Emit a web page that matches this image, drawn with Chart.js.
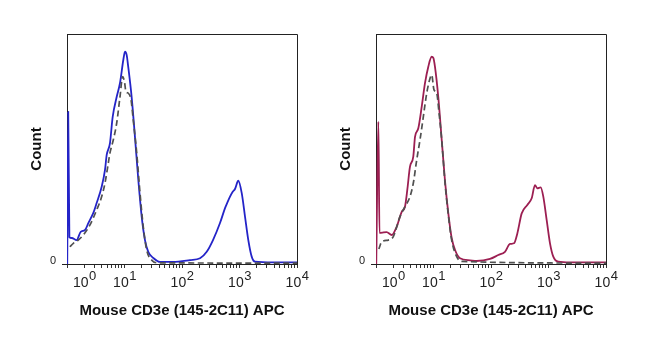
<!DOCTYPE html>
<html lang="en">
<head>
<meta charset="UTF-8" />
<title>Mouse CD3e (145-2C11) APC</title>
<script src="https://cdn.jsdelivr.net/npm/chart.js"></script>
<style>
  body { margin: 0; padding: 0; background: #fff; width: 650px; height: 344px; position: relative; overflow: hidden; }
  .panel { position: absolute; top: 0; width: 325px; height: 344px; }
  #leftPanel { left: 0; }
  #rightPanel { left: 309px; }
</style>
</head>
<body>
<div class="panel" id="leftPanel"><canvas id="leftChart" width="325" height="344"></canvas></div>
<div class="panel" id="rightPanel"><canvas id="rightChart" width="325" height="344"></canvas></div>
<script>
// APC intensity (x) and relative count (y), left panel: stained cells
const leftStainX = [1.01, 1.05, 1.10, 1.21, 1.47, 1.73, 2.06, 2.35, 2.87, 3.28, 4.01, 4.58, 4.90, 5.59, 6.23, 7.32, 8.35, 9.53, 10.2, 10.9, 11.6, 13.3, 15.2, 17.4, 19.9, 22.7, 25.9, 31.7, 41.4, 69.7, 138, 206, 269, 346, 458, 560, 614, 684, 762, 835, 953, 1092, 1247, 1423, 1630, 1862, 3830, 10000];
const leftStainY = [0, 66.1, 11.7, 11.3, 10.4, 14.0, 14.8, 17.8, 22.2, 26.5, 33.6, 40.9, 47.4, 52.6, 64.0, 72.7, 78.7, 88.7, 92.3, 90.9, 85.8, 72.7, 55.3, 36.5, 20.6, 10.4, 5.3, 2.6, 0.9, 0.9, 1.7, 2.5, 5.3, 10.4, 17.8, 24.3, 26.7, 29.3, 31.4, 32.6, 36.2, 30.9, 20.6, 10.4, 3.2, 1.0, 0.7, 0.7];

// left panel: unstained control (dashed)
const leftCtrlX = [1.12, 1.29, 1.57, 1.92, 2.51, 3.28, 4.01, 4.58, 5.23, 5.59, 6.38, 7.32, 8.35, 9.30, 10.0, 10.6, 11.6, 13.0, 14.2, 16.3, 18.6, 21.2, 24.3, 29.7, 38.3, 10000];
const leftCtrlY = [7.5, 9.0, 10.4, 12.6, 17.0, 23.5, 29.3, 35.2, 43.9, 48.3, 53.9, 61.3, 72.7, 81.5, 79.1, 74.9, 74.3, 71.3, 62.6, 48.3, 30.9, 16.2, 6.1, 1.7, 0.5, 0.4];

// right panel: stained cells
const rightStainX = [1.01, 1.10, 1.15, 1.26, 1.53, 1.88, 2.29, 2.80, 3.19, 3.50, 3.90, 4.45, 4.77, 5.44, 6.24, 7.11, 8.12, 9.30, 9.93, 10.6, 12.1, 13.9, 15.8, 18.1, 20.7, 23.7, 28.9, 43.1, 56.4, 96.1, 134, 175, 214, 251, 287, 342, 428, 510, 582, 638, 731, 812, 930, 1062, 1212, 1480, 2366, 10000];
const rightStainY = [0, 61.9, 13.5, 13.6, 13.9, 12.6, 16.2, 22.7, 24.9, 32.2, 42.3, 46.7, 55.3, 59.0, 68.4, 78.6, 85.8, 90.1, 89.6, 85.8, 72.7, 53.9, 36.5, 22.0, 11.3, 6.1, 2.5, 1.6, 1.3, 2.2, 3.9, 5.3, 8.7, 9.0, 13.3, 22.0, 25.7, 28.6, 34.3, 32.9, 33.3, 29.3, 19.1, 9.0, 3.2, 1.0, 0.7, 0.7];

// right panel: unstained control (dashed)
const rightCtrlX = [1.12, 1.26, 1.64, 2.00, 2.61, 3.19, 3.90, 4.45, 5.10, 5.82, 6.65, 7.62, 8.69, 9.30, 10.2, 11.4, 12.5, 13.9, 15.8, 18.1, 20.7, 25.3, 31.3, 10000];
const rightCtrlY = [6.5, 9.7, 10.4, 11.9, 20.6, 24.9, 29.3, 35.1, 45.2, 53.9, 64.0, 74.2, 80.7, 82.2, 75.7, 74.2, 65.5, 53.9, 35.7, 21.3, 10.4, 3.2, 1.1, 0.4];

// axis labels
const decadeValues = [1, 10, 100, 1000, 10000];
const decadeExponents = ['0', '1', '2', '3', '4'];
const yTickValues = [0];
const xTitle = 'Mouse CD3e (145-2C11) APC';
const yTitle = 'Count';

const FONT = "'Liberation Sans', Arial, sans-serif";

function toPoints(xs, ys) {
  return xs.map((x, i) => ({ x: x, y: ys[i] }));
}

// 1..9 in every decade, then the last decade mark
function logTickValues() {
  const vals = [];
  for (let d = 0; d < decadeValues.length - 1; d++) {
    for (let k = 1; k <= 9; k++) vals.push(k * decadeValues[d]);
  }
  vals.push(decadeValues[decadeValues.length - 1]);
  return vals;
}

// box around the plot area (top and right sides)
const framePlugin = {
  id: 'frame',
  afterDraw(chart) {
    const { ctx, chartArea: a } = chart;
    ctx.save();
    ctx.strokeStyle = '#222';
    ctx.lineWidth = 1;
    ctx.beginPath();
    ctx.moveTo(Math.round(a.left) + 0.5, Math.round(a.top) + 0.5);
    ctx.lineTo(Math.round(a.right) + 0.5, Math.round(a.top) + 0.5);
    ctx.lineTo(Math.round(a.right) + 0.5, Math.round(a.bottom) + 0.5);
    ctx.stroke();
    ctx.restore();
  }
};

// "10" with a raised exponent under each decade tick
const decadeLabelPlugin = {
  id: 'decadeLabels',
  afterDraw(chart) {
    const { ctx, chartArea: a } = chart;
    const xs = chart.scales.x;
    ctx.save();
    ctx.fillStyle = '#222';
    ctx.textBaseline = 'alphabetic';
    ctx.textAlign = 'left';
    decadeValues.forEach((v, i) => {
      const px = xs.getPixelForValue(v);
      ctx.font = '14px ' + FONT;
      const baseW = ctx.measureText('10').width;
      ctx.font = '13px ' + FONT;
      const expW = ctx.measureText(decadeExponents[i]).width;
      let left = px - (baseW + expW) / 2;
      if (left < a.left + 6) left = a.left + 6;
      ctx.font = '14px ' + FONT;
      ctx.fillText('10', left, a.bottom + 23);
      ctx.font = '13px ' + FONT;
      ctx.fillText(decadeExponents[i], left + baseW + 0.5, a.bottom + 16);
    });
    ctx.restore();
  }
};

function makeChart(canvasId, stainX, stainY, ctrlX, ctrlY, color) {
  return new Chart(document.getElementById(canvasId), {
    type: 'line',
    data: {
      datasets: [
        {
          data: toPoints(ctrlX, ctrlY),
          borderColor: '#505050',
          borderWidth: 1.7,
          borderDash: [6, 3.5],
          pointRadius: 0,
          fill: false,
          cubicInterpolationMode: 'monotone'
        },
        {
          data: toPoints(stainX, stainY),
          borderColor: color,
          borderWidth: 1.8,
          pointRadius: 0,
          fill: false,
          cubicInterpolationMode: 'monotone'
        }
      ]
    },
    options: {
      responsive: false,
      animation: false,
      events: [],
      layout: { padding: { top: 34, right: 28, left: 0, bottom: 0 } },
      plugins: { legend: { display: false }, tooltip: { enabled: false } },
      scales: {
        x: {
          type: 'logarithmic',
          min: 1,
          max: 10000,
          afterBuildTicks: (scale) => { scale.ticks = logTickValues().map(v => ({ value: v })); },
          afterFit: (scale) => { scale.height = 80; },
          ticks: { display: false, autoSkip: false },
          grid: { drawOnChartArea: false, drawTicks: true, tickLength: 4, color: '#333', lineWidth: 1 },
          border: { display: true, color: '#222', width: 1 },
          title: {
            display: true,
            text: xTitle,
            color: '#111',
            font: { family: FONT, size: 15, weight: 'bold' },
            padding: { top: 0, bottom: 24 }
          }
        },
        y: {
          type: 'linear',
          min: 0,
          max: 100,
          afterBuildTicks: (scale) => { scale.ticks = yTickValues.map(v => ({ value: v })); },
          afterFit: (scale) => { scale.width = 67; },
          ticks: { color: '#222', font: { family: FONT, size: 11 }, padding: 6, labelOffset: -3 },
          grid: { drawOnChartArea: false, drawTicks: true, tickLength: 5, color: '#222', lineWidth: 1 },
          border: { display: true, color: '#222', width: 1 },
          title: {
            display: true,
            text: yTitle,
            color: '#111',
            font: { family: FONT, size: 15, weight: 'bold' },
            padding: { top: 28, bottom: 0 }
          }
        }
      }
    },
    plugins: [framePlugin, decadeLabelPlugin]
  });
}

makeChart('leftChart', leftStainX, leftStainY, leftCtrlX, leftCtrlY, '#2424c8');
makeChart('rightChart', rightStainX, rightStainY, rightCtrlX, rightCtrlY, '#9c1f52');
</script>
</body>
</html>
